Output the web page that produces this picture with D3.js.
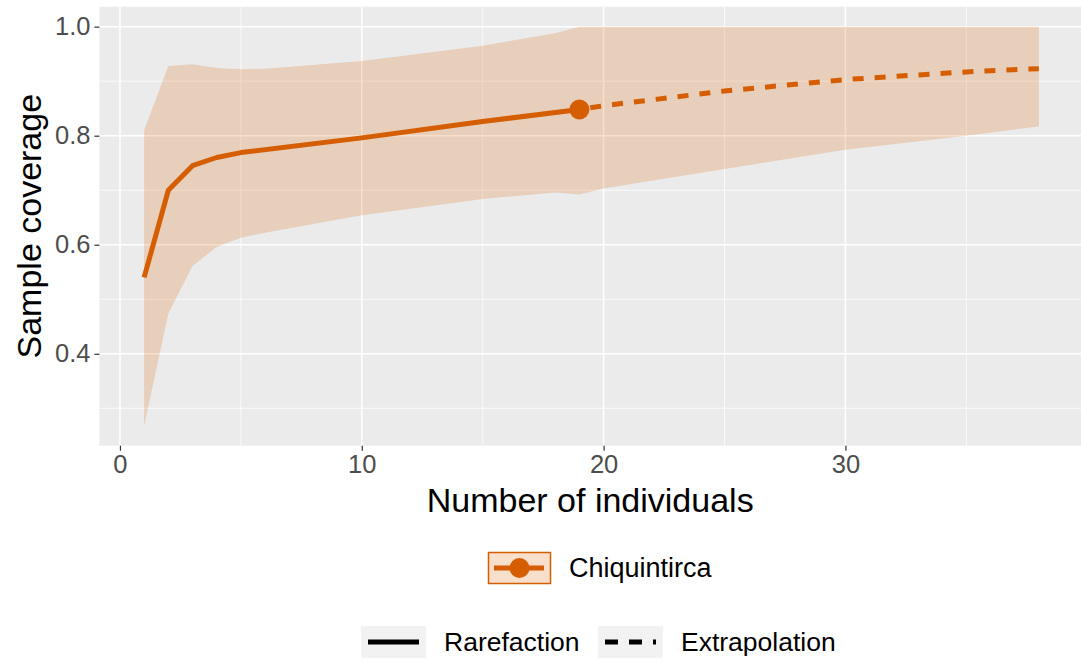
<!DOCTYPE html>
<html lang="en">
<head>
<meta charset="UTF-8">
<title>Sample coverage</title>
<style>
  body { margin: 0; background: #fff; }
  svg { display: block; font-family: "Liberation Sans", Arial, sans-serif; }
</style>
</head>
<body>
<svg width="1081" height="662"></svg>
<script src="https://d3js.org/d3.v7.min.js"></script>
<script>
// data (iNEXT coverage curve, one assemblage)
var siteName = "Chiquintirca";
var rareX  = [1, 2, 3, 4, 5, 10, 15, 19];
var rareY  = [0.540, 0.700, 0.745, 0.760, 0.769, 0.796, 0.826, 0.848];
var extraX = [19, 20, 25, 30, 35, 38];
var extraY = [0.848, 0.855, 0.882, 0.903, 0.917, 0.923];
var bandX  = [1, 2, 3, 4, 5, 6, 10, 15, 18, 19, 20, 25, 30, 35, 38];
var bandLo = [0.268, 0.474, 0.561, 0.596, 0.613, 0.622, 0.654, 0.684, 0.696, 0.692, 0.703, 0.739, 0.774, 0.800, 0.817];
var bandHi = [0.810, 0.928, 0.931, 0.924, 0.922, 0.923, 0.937, 0.965, 0.988, 1.000, 1.000, 1.000, 1.000, 1.000, 1.000];
var xTicks = [0, 10, 20, 30];
var yTicks = [0.4, 0.6, 0.8, 1.0];
var methods = ["Rarefaction", "Extrapolation"];

var col = "#D55E00";
var svg = d3.select("svg");
var panel = {left: 99.4, right: 1083.6, top: 6.7, bottom: 445.7};

// ggplot style 5% expansion
function expand(lo, hi) { var r = hi - lo; return [lo - r * 0.05, hi + r * 0.05]; }
var xAll = bandX.concat(rareX, extraX);
var yAll = bandLo.concat(bandHi, rareY, extraY);
var x = d3.scaleLinear().domain(expand(d3.min(xAll), d3.max(xAll))).range([panel.left, panel.right]);
var y = d3.scaleLinear().domain(expand(d3.min(yAll), d3.max(yAll))).range([panel.bottom, panel.top]);

svg.append("rect")
  .attr("x", panel.left).attr("y", panel.top)
  .attr("width", panel.right - panel.left).attr("height", panel.bottom - panel.top)
  .attr("fill", "#EBEBEB");

// grid: minor then major
var g = svg.append("g");
var xMinor = [5, 15, 25, 35];
var yMinor = [0.3, 0.5, 0.7, 0.9];
g.selectAll(".xmin").data(xMinor).enter().append("line")
  .attr("x1", x).attr("x2", x).attr("y1", panel.top).attr("y2", panel.bottom)
  .attr("stroke", "#fff").attr("stroke-width", 0.75);
g.selectAll(".ymin").data(yMinor).enter().append("line")
  .attr("y1", y).attr("y2", y).attr("x1", panel.left).attr("x2", panel.right)
  .attr("stroke", "#fff").attr("stroke-width", 0.75);
g.selectAll(".xmaj").data(xTicks).enter().append("line")
  .attr("x1", x).attr("x2", x).attr("y1", panel.top).attr("y2", panel.bottom)
  .attr("stroke", "#fff").attr("stroke-width", 1.5);
g.selectAll(".ymaj").data(yTicks).enter().append("line")
  .attr("y1", y).attr("y2", y).attr("x1", panel.left).attr("x2", panel.right)
  .attr("stroke", "#fff").attr("stroke-width", 1.5);

// confidence band
var band = bandX.map(function(d, i) { return {x: d, lo: bandLo[i], hi: bandHi[i]}; });
svg.append("path").datum(band)
  .attr("d", d3.area().x(function(d) { return x(d.x); })
    .y0(function(d) { return y(d.lo); }).y1(function(d) { return y(d.hi); }))
  .attr("fill", col).attr("fill-opacity", 0.2);

var line = d3.line().x(function(d) { return x(d[0]); }).y(function(d) { return y(d[1]); });
svg.append("path").datum(d3.zip(rareX, rareY))
  .attr("d", line).attr("fill", "none").attr("stroke", col)
  .attr("stroke-width", 5).attr("stroke-linejoin", "round");
svg.append("path").datum(d3.zip(extraX, extraY))
  .attr("d", line).attr("fill", "none").attr("stroke", col)
  .attr("stroke-width", 5).attr("stroke-dasharray", "11,11").attr("stroke-dashoffset", -11);
svg.append("circle")
  .attr("cx", x(rareX[rareX.length - 1])).attr("cy", y(rareY[rareY.length - 1]))
  .attr("r", 10).attr("fill", col);

// axes
var xAxis = svg.append("g").attr("transform", "translate(0," + panel.bottom + ")")
  .call(d3.axisBottom(x).tickValues(xTicks).tickSize(5).tickPadding(4).tickFormat(d3.format("d")));
var yAxis = svg.append("g").attr("transform", "translate(" + panel.left + ",0)")
  .call(d3.axisLeft(y).tickValues(yTicks).tickSize(5).tickPadding(4).tickFormat(d3.format(".1f")));
[xAxis, yAxis].forEach(function(a) {
  a.select(".domain").remove();
  a.selectAll(".tick line").attr("stroke", "#333").attr("stroke-width", 1.2);
  a.selectAll(".tick text").attr("fill", "#4D4D4D").attr("font-size", 25.5);
});

svg.append("text").attr("x", (panel.left + 1081) / 2).attr("y", 512)
  .attr("text-anchor", "middle").attr("font-size", 34).text("Number of individuals");
svg.append("text").attr("transform", "translate(41," + (panel.top + panel.bottom) / 2 + ") rotate(-90)")
  .attr("text-anchor", "middle").attr("font-size", 34).text("Sample coverage");

// legend 1: site
var l1 = svg.append("g").attr("transform", "translate(488,552)");
l1.append("rect").attr("x", 0.5).attr("y", 0.5).attr("width", 62).attr("height", 31)
  .attr("fill", "#fff").attr("stroke", "none");
l1.append("rect").attr("x", 0.5).attr("y", 0.5).attr("width", 62).attr("height", 31)
  .attr("fill", col).attr("fill-opacity", 0.2).attr("stroke", col).attr("stroke-width", 1.5);
l1.append("line").attr("x1", 6).attr("x2", 56).attr("y1", 16).attr("y2", 16)
  .attr("stroke", col).attr("stroke-width", 5);
l1.append("circle").attr("cx", 31.5).attr("cy", 16).attr("r", 10).attr("fill", col);
l1.append("text").attr("x", 81).attr("y", 25).attr("font-size", 27).text(siteName);

// legend 2: method
var keyX = [361, 598];
var l2 = svg.selectAll(".method").data(methods).enter().append("g")
  .attr("transform", function(d, i) { return "translate(" + keyX[i] + ",626)"; });
l2.append("rect").attr("width", 65).attr("height", 32).attr("fill", "#F2F2F2");
l2.append("line").attr("x1", 7).attr("x2", 58).attr("y1", 16).attr("y2", 16)
  .attr("stroke", "#000").attr("stroke-width", 5)
  .attr("stroke-dasharray", function(d, i) { return i ? "13,11" : null; });
l2.append("text").attr("x", 83).attr("y", 25).attr("font-size", 26.5).text(function(d) { return d; });
</script>
</body>
</html>
